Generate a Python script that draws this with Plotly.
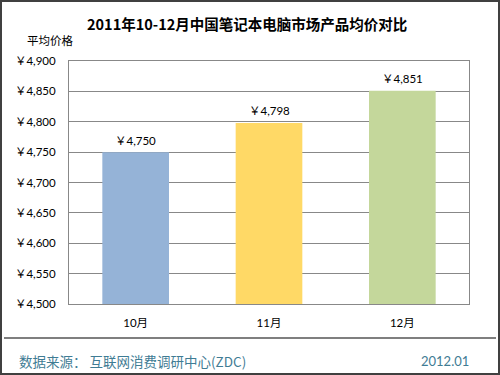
import plotly.graph_objects as go

months = ["10月", "11月", "12月"]
prices = [4750, 4798, 4851]
colors = ["#95B3D7", "#FFD966", "#C4D79B"]
y_ticks = [4500, 4550, 4600, 4650, 4700, 4750, 4800, 4850, 4900]
title_text = "2011年10-12月中国笔记本电脑市场产品均价对比"
y_title = "平均价格"
source_text = "数据来源： 互联网消费调研中心(ZDC)"
date_text = "2012.01"

FONT = "Lato, 'Noto Sans CJK SC', sans-serif"
CJK = "'Noto Sans CJK SC', sans-serif"

L, R, T, B = 69, 31, 61, 71
W, H = 500, 375
PW, PH = W - L - R, H - T - B

def px(x):
    return (x - L) / PW

def py(y):
    return (H - B - y) / PH

fig = go.Figure()
fig.add_trace(go.Bar(
    x=months, y=prices, marker=dict(color=colors, line=dict(width=0)),
    width=0.5, hoverinfo="skip",
))

annotations = []
for m, p in zip(months, prices):
    annotations.append(dict(
        x=m, y=p, xref="x", yref="y", text="￥" + f"{p:,}",
        showarrow=False, yshift=12, bgcolor="white",
        font=dict(family=FONT, size=11.5, color="#000000"), borderpad=1,
    ))

annotations += [
    dict(x=px(246.5), xref="paper", y=py(23), yref="paper", text="<b>" + title_text + "</b>",
         showarrow=False, font=dict(family=CJK, size=14.5, color="#000000"),
         xanchor="center", yanchor="middle"),
    dict(x=px(25), xref="paper", y=py(40), yref="paper", text=y_title,
         showarrow=False, font=dict(family=CJK, size=11.5, color="#000000"),
         xanchor="left", yanchor="middle"),
    dict(x=px(17), xref="paper", y=py(361), yref="paper", text=source_text,
         showarrow=False, font=dict(family=CJK, size=13.5, color="#3F7C94"),
         xanchor="left", yanchor="middle"),
    dict(x=px(471), xref="paper", y=py(361), yref="paper", text=date_text,
         showarrow=False, font=dict(family=FONT, size=13, color="#3F7C94"),
         xanchor="right", yanchor="middle"),
]

shapes = [
    dict(type="rect", xref="paper", yref="paper",
         x0=px(1), x1=px(499), y0=py(1), y1=py(374),
         line=dict(color="#404040", width=2), layer="above"),
    dict(type="line", xref="paper", yref="paper",
         x0=px(4), x1=px(496), y0=py(338), y1=py(338),
         line=dict(color="#000000", width=1.2)),
]

fig.update_layout(
    width=W, height=H,
    margin=dict(l=L, r=R, t=T, b=B),
    paper_bgcolor="white", plot_bgcolor="white",
    showlegend=False, bargap=0.5,
    annotations=annotations, shapes=shapes,
    xaxis=dict(showgrid=False, showline=True, mirror=True, linecolor="#888888",
               linewidth=1, ticks="", tickfont=dict(family=FONT, size=11.5, color="#000000"),
               ticklabelstandoff=8),
    yaxis=dict(range=[4500, 4900], tickvals=y_ticks,
               ticktext=["￥" + f"{v:,}" for v in y_ticks],
               showgrid=True, gridcolor="#888888", gridwidth=1,
               showline=True, mirror=True, linecolor="#888888", linewidth=1,
               ticks="", tickfont=dict(family=FONT, size=11.5, color="#000000"),
               ticklabelstandoff=10, zeroline=False),
)

fig.write_html(
    "out.html",
    config={"displayModeBar": False, "staticPlot": True},
    post_script="document.body.style.margin='0';document.body.style.padding='0';document.documentElement.style.margin='0';document.body.style.overflow='hidden';",
)
